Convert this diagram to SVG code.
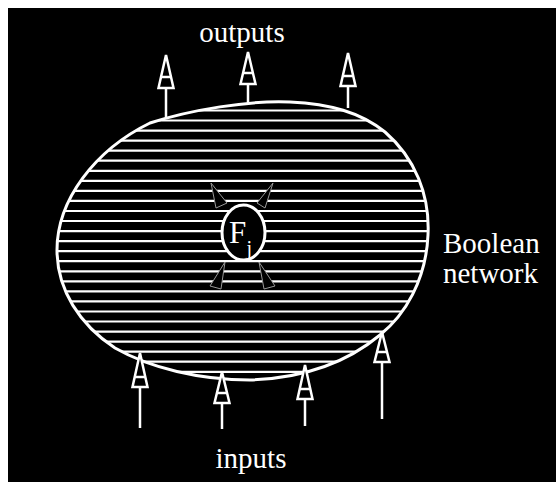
<svg xmlns="http://www.w3.org/2000/svg" width="556" height="482" viewBox="0 0 556 482">
<style>
.txt{font-family:"Liberation Serif","Times New Roman",serif;fill:#fff}
.ln{stroke:#fff;stroke-width:2.5;fill:none}
.head{stroke:#fff;stroke-width:2.5;fill:#000;stroke-linejoin:miter}
.hatch{stroke:#fff;stroke-width:2.2}
.wedge{fill:#000;stroke:#999;stroke-width:1}
</style>
<defs>
<clipPath id="blobclip">
<path d="M150,123 C190,110 250,100 290,102 C330,104 360,112 385,132 C415,158 430,195 428,235 C426,280 405,315 380,335 C350,360 310,378 250,380 C200,380 150,368 115,348 C80,325 57,290 57,250 C57,200 95,150 150,123 Z"/>
</clipPath>
</defs>
<rect x="0" y="0" width="556" height="482" fill="#fff"/>
<rect x="8" y="8" width="548" height="474" fill="#000"/>

<g id="network">
<g clip-path="url(#blobclip)">
<g class="hatch">
<line x1="40" y1="110.5" x2="450" y2="110.5"/>
<line x1="40" y1="120.5" x2="450" y2="120.5"/>
<line x1="40" y1="130.6" x2="450" y2="130.6"/>
<line x1="40" y1="140.6" x2="450" y2="140.6"/>
<line x1="40" y1="150.7" x2="450" y2="150.7"/>
<line x1="40" y1="160.7" x2="450" y2="160.7"/>
<line x1="40" y1="170.8" x2="450" y2="170.8"/>
<line x1="40" y1="180.8" x2="450" y2="180.8"/>
<line x1="40" y1="190.9" x2="450" y2="190.9"/>
<line x1="40" y1="200.9" x2="450" y2="200.9"/>
<line x1="40" y1="211.0" x2="450" y2="211.0"/>
<line x1="40" y1="221.0" x2="450" y2="221.0"/>
<line x1="40" y1="231.1" x2="450" y2="231.1"/>
<line x1="40" y1="241.1" x2="450" y2="241.1"/>
<line x1="40" y1="251.2" x2="450" y2="251.2"/>
<line x1="40" y1="261.2" x2="450" y2="261.2"/>
<line x1="40" y1="271.3" x2="450" y2="271.3"/>
<line x1="40" y1="281.3" x2="450" y2="281.3"/>
<line x1="40" y1="291.4" x2="450" y2="291.4"/>
<line x1="40" y1="301.4" x2="450" y2="301.4"/>
<line x1="40" y1="311.5" x2="450" y2="311.5"/>
<line x1="40" y1="321.5" x2="450" y2="321.5"/>
<line x1="40" y1="331.6" x2="450" y2="331.6"/>
<line x1="40" y1="341.6" x2="450" y2="341.6"/>
<line x1="40" y1="351.7" x2="450" y2="351.7"/>
<line x1="40" y1="361.7" x2="450" y2="361.7"/>
<line x1="40" y1="371.8" x2="450" y2="371.8"/>
</g>
</g>
<path d="M150,123 C190,110 250,100 290,102 C330,104 360,112 385,132 C415,158 430,195 428,235 C426,280 405,315 380,335 C350,360 310,378 250,380 C200,380 150,368 115,348 C80,325 57,290 57,250 C57,200 95,150 150,123 Z" fill="none" stroke="#fff" stroke-width="3"/>
<text class="txt" x="443" y="253" font-size="29">Boolean</text>
<text class="txt" x="443" y="283" font-size="29">network</text>
</g>

<g id="node-F">
<polygon class="wedge" points="211,183 216,208 227,203"/>
<polygon class="wedge" points="273,183 257,203 265,208"/>
<polygon class="wedge" points="225,262 210,286 221,289"/>
<polygon class="wedge" points="259,262 264,289 275,286"/>
<ellipse cx="243.5" cy="232.5" rx="21.5" ry="27.5" fill="#000" stroke="#fff" stroke-width="3"/>
<text class="txt" x="229" y="243" font-size="31">F</text>
<text class="txt" x="246.5" y="255" font-size="20">j</text>
</g>

<g id="connectors">
<!-- outputs -->
<line class="ln" x1="166" y1="88" x2="166" y2="117"/>
<polygon class="head" points="166,55 158.5,88 173.5,88"/>
<line class="ln" x1="160.5" y1="77" x2="171.5" y2="77"/>
<line class="ln" x1="248" y1="84" x2="248" y2="103"/>
<polygon class="head" points="248,52 240.5,84 255.5,84"/>
<line class="ln" x1="243" y1="73" x2="253" y2="73"/>
<line class="ln" x1="348" y1="86" x2="348" y2="108"/>
<polygon class="head" points="348,53 340.5,86 355.5,86"/>
<line class="ln" x1="342.5" y1="76" x2="353.5" y2="76"/>
<!-- inputs -->
<line class="ln" x1="140" y1="387" x2="140" y2="428"/>
<polygon class="head" points="140,353 132.5,387 147.5,387"/>
<line class="ln" x1="134.5" y1="377" x2="145.5" y2="377"/>
<line class="ln" x1="222" y1="403" x2="222" y2="429"/>
<polygon class="head" points="222,372 214.5,403 229.5,403"/>
<line class="ln" x1="216.5" y1="393" x2="227.5" y2="393"/>
<line class="ln" x1="305" y1="399" x2="305" y2="426"/>
<polygon class="head" points="305,365 297.5,399 312.5,399"/>
<line class="ln" x1="299.5" y1="389" x2="310.5" y2="389"/>
<line class="ln" x1="382" y1="362" x2="382" y2="419"/>
<polygon class="head" points="382,332 374.5,362 389.5,362"/>
<line class="ln" x1="376.5" y1="352" x2="387.5" y2="352"/>
</g>

<text class="txt" x="242" y="42" font-size="29" text-anchor="middle">outputs</text>
<text class="txt" x="251" y="468" font-size="29" text-anchor="middle">inputs</text>
</svg>
